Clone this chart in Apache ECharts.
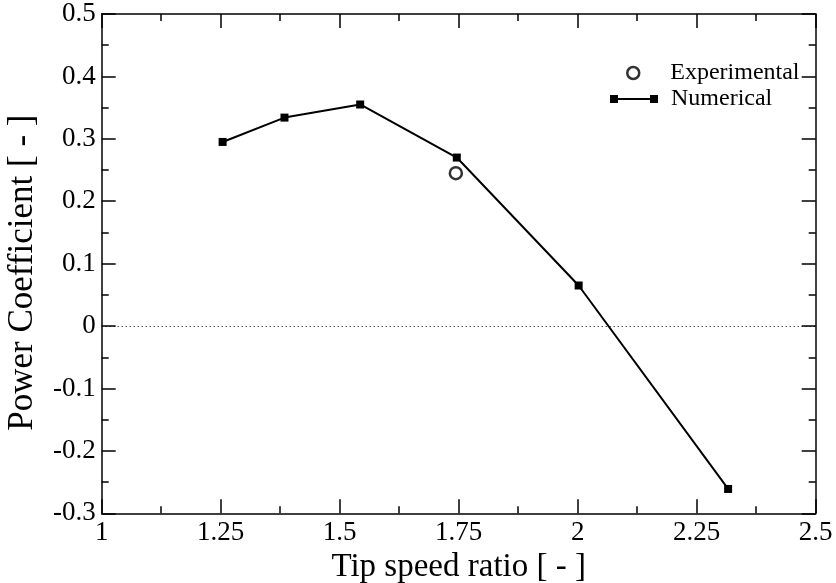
<!DOCTYPE html>
<html>
<head>
<meta charset="utf-8">
<script src="https://cdn.jsdelivr.net/npm/echarts@6/dist/echarts.min.js"></script>
<style>
  html, body { margin: 0; padding: 0; background: #fff; }
  #chart { width: 836px; height: 583px; }
</style>
</head>
<body>
<div id="chart"></div>
<script>
// Tip speed ratio vs. power coefficient
const numTsr = [1.254, 1.384, 1.543, 1.746, 2.002, 2.316];
const numCp  = [0.295, 0.334, 0.355, 0.270, 0.065, -0.261];
const expTsr = [1.744];
const expCp  = [0.245];

const xTicks = { min: 1, max: 2.5, interval: 0.25 };
const yTicks = { min: -0.3, max: 0.5, interval: 0.1 };

const FONT = '"Liberation Serif", "Times New Roman", serif';

function pairs(xs, ys) { return xs.map((x, i) => [x, ys[i]]); }

function frameAxis(base, pos, showLabel) {
  return Object.assign({
    type: 'value',
    position: pos,
    axisLine: { show: true, onZero: false, lineStyle: { color: '#000', width: 1.5 } },
    axisTick: { show: true, inside: true, length: 14, lineStyle: { color: '#000', width: 1.5 } },
    minorTick: { show: true, splitNumber: 2, length: 7, lineStyle: { color: '#000', width: 1.5 } },
    splitLine: { show: false },
    axisLabel: { show: showLabel, color: '#000', fontFamily: FONT, fontSize: 27, margin: 6 }
  }, base);
}

const chart = echarts.init(document.getElementById('chart'), null, { renderer: 'canvas' });

chart.setOption({
  animation: false,
  backgroundColor: '#fff',
  grid: {
    left: 101.7, right: 20.3, top: 14, bottom: 69.7,
    containLabel: false,
    outerBoundsMode: 'none'
  },
  xAxis: [
    frameAxis(Object.assign({
      name: 'Tip speed ratio [ - ]',
      nameLocation: 'middle',
      nameGap: 31,
      nameTextStyle: { color: '#000', fontFamily: FONT, fontSize: 33 }
    }, xTicks), 'bottom', true),
    frameAxis(Object.assign({}, xTicks), 'top', false)
  ],
  yAxis: [
    frameAxis(Object.assign({
      name: 'Power Coefficient [ - ]',
      nameLocation: 'middle',
      nameGap: 61,
      nameTextStyle: { color: '#000', fontFamily: FONT, fontSize: 35, padding: [0, 18, 0, 0] }
    }, yTicks), 'left', true),
    frameAxis(Object.assign({}, yTicks), 'right', false)
  ],
  legend: [
    {
      data: ['Experimental'],
      left: 621, top: 56,
      itemWidth: 48, itemHeight: 12,
      textStyle: { color: '#000', fontFamily: FONT, fontSize: 24, lineHeight: 24, padding: [0, 0, 0, 8] },
      itemStyle: { color: '#fff', borderColor: '#000', borderWidth: 2.5 }
    },
    {
      data: [{ name: 'Numerical', icon: 'path://M0,0h8v8h-8zM8,3h32v2h-32zM40,0h8v8h-8z' }],
      left: 605, top: 82,
      itemWidth: 48, itemHeight: 8,
      textStyle: { color: '#000', fontFamily: FONT, fontSize: 24, lineHeight: 24, padding: [0, 0, 0, 8] },
      itemStyle: { color: '#000' }
    }
  ],
  series: [
    {
      name: 'Numerical',
      type: 'line',
      data: pairs(numTsr, numCp),
      symbol: 'rect',
      symbolSize: 8,
      lineStyle: { color: '#000', width: 2 },
      itemStyle: { color: '#000' },
      markLine: {
        silent: true,
        symbol: ['none', 'none'],
        label: { show: false },
        lineStyle: { color: '#000', width: 1, type: [1, 3] },
        data: [{ yAxis: 0 }]
      },
      z: 3
    },
    {
      name: 'Experimental',
      type: 'scatter',
      data: pairs(expTsr, expCp),
      symbol: 'circle',
      symbolSize: 12,
      itemStyle: { color: '#fff', borderColor: '#000', borderWidth: 2.5 },
      z: 4
    }
  ]
});
</script>
</body>
</html>
